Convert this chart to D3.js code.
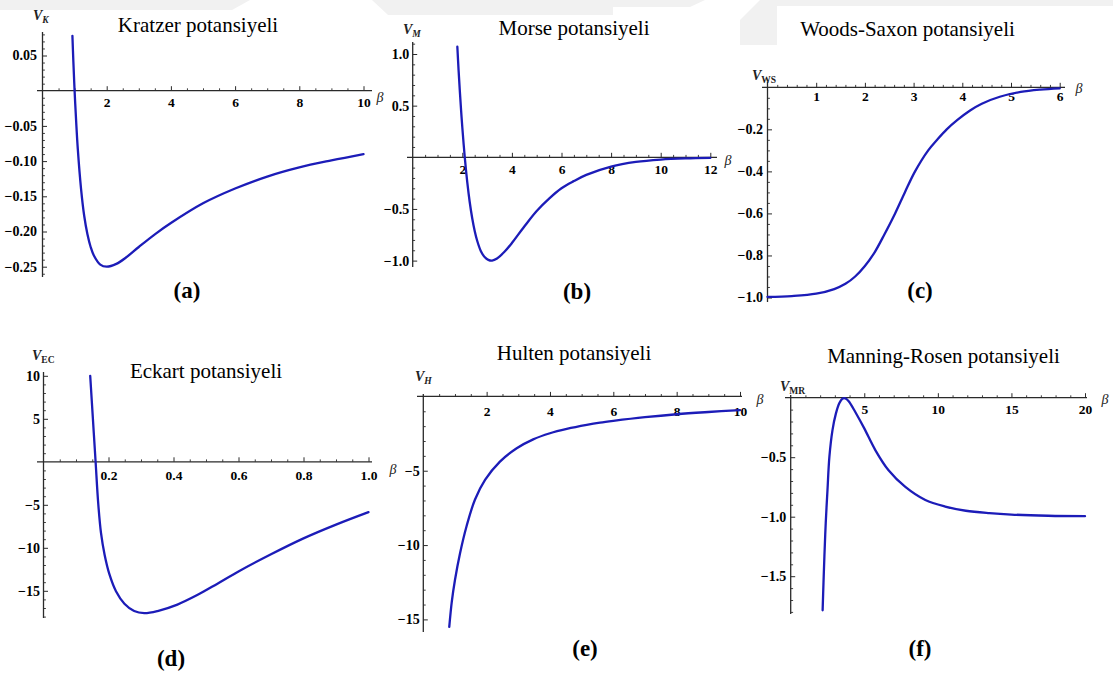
<!DOCTYPE html>
<html>
<head>
<meta charset="utf-8">
<script src="https://cdn.jsdelivr.net/npm/d3@7"></script>
<style>
  html, body { margin: 0; padding: 0; background: #fff; }
  svg { display: block; }
  svg text { font-family: "Liberation Serif", "Times New Roman", Tinos, "DejaVu Serif", serif; }
</style>
</head>
<body>
<svg id="fig" width="1113" height="674"></svg>
<script>
// ---- Kratzer ----
const kratzerBeta = [0.932, 0.96, 1.0, 1.05, 1.1, 1.2, 1.3, 1.4, 1.5, 1.6, 1.8, 2.0, 2.3, 2.6, 3.0, 3.5, 4.0, 5.0, 6.0, 7.0, 8.0, 9.0, 10.0];
const kratzerV    = [0.078, 0.043, 0, -0.045, -0.083, -0.139, -0.178, -0.204, -0.222, -0.234, -0.247, -0.25, -0.246, -0.237, -0.222, -0.204, -0.188, -0.16, -0.139, -0.122, -0.109, -0.099, -0.09];
const kratzerXTicks = [2, 4, 6, 8, 10];
const kratzerXLabels = ["2", "4", "6", "8", "10"];
const kratzerYTicks = [0.05, -0.05, -0.10, -0.15, -0.20, -0.25];
const kratzerYLabels = ["0.05", "\u22120.05", "\u22120.10", "\u22120.15", "\u22120.20", "\u22120.25"];

// ---- Morse ----
const morseBeta = [1.80, 1.85, 1.90, 1.95, 2.0, 2.1, 2.2, 2.3, 2.4, 2.5, 2.6, 2.75, 2.9, 3.05, 3.2, 3.4, 3.7, 4.0, 4.5, 5.0, 5.5, 6.0, 6.5, 7.0, 8.0, 9.0, 10.0, 11.0, 12.0];
const morseV    = [1.07, 0.844, 0.643, 0.459, 0.291, 0, -0.24, -0.435, -0.59, -0.713, -0.808, -0.909, -0.965, -0.993, -1.0, -0.98, -0.915, -0.83, -0.67, -0.52, -0.4, -0.3, -0.23, -0.17, -0.09, -0.045, -0.022, -0.011, -0.006];
const morseXTicks = [2, 4, 6, 8, 10, 12];
const morseXLabels = ["2", "4", "6", "8", "10", "12"];
const morseYTicks = [1.0, 0.5, -0.5, -1.0];
const morseYLabels = ["1.0", "0.5", "\u22120.5", "\u22121.0"];

// ---- Woods-Saxon ----
const woodsBeta = [0, 0.5, 1.0, 1.37, 1.6, 1.8, 2.0, 2.2, 2.4, 2.62, 2.82, 3.03, 3.3, 3.5, 3.68, 3.9, 4.16, 4.4, 4.77, 5.2, 5.6, 6.0];
const woodsV    = [-0.997, -0.993, -0.982, -0.96, -0.935, -0.9, -0.85, -0.785, -0.7, -0.6, -0.5, -0.4, -0.3, -0.245, -0.2, -0.155, -0.11, -0.078, -0.045, -0.022, -0.011, -0.005];
const woodsXTicks = [1, 2, 3, 4, 5, 6];
const woodsXLabels = ["1", "2", "3", "4", "5", "6"];
const woodsYTicks = [-0.2, -0.4, -0.6, -0.8, -1.0];
const woodsYLabels = ["\u22120.2", "\u22120.4", "\u22120.6", "\u22120.8", "\u22121.0"];

// ---- Eckart ----
const eckartBeta = [0.1437, 0.152, 0.1603, 0.1685, 0.177, 0.188, 0.203, 0.223, 0.249, 0.279, 0.31, 0.351, 0.412, 0.473, 0.534, 0.6, 0.7, 0.8, 0.9, 1.0];
const eckartV    = [10.0, 5.0, 0, -4.9, -8.3, -10.8, -13.1, -15.05, -16.5, -17.35, -17.6, -17.35, -16.6, -15.5, -14.2, -12.75, -10.75, -8.9, -7.3, -5.85];
const eckartXTicks = [0.2, 0.4, 0.6, 0.8, 1.0];
const eckartXLabels = ["0.2", "0.4", "0.6", "0.8", "1.0"];
const eckartYTicks = [10, 5, -5, -10, -15];
const eckartYLabels = ["10", "5", "\u22125", "\u221210", "\u221215"];

// ---- Hulten ----
const hultenBeta = [0.82, 0.9, 1.0, 1.16, 1.37, 1.63, 1.95, 2.42, 2.95, 3.47, 4.0, 4.53, 5.16, 5.58, 6.0, 7.0, 8.0, 9.0, 10.0];
const hultenV    = [-15.5, -13.8, -12.35, -10.55, -8.7, -6.95, -5.62, -4.39, -3.49, -2.89, -2.48, -2.19, -1.92, -1.77, -1.65, -1.4, -1.2, -1.05, -0.92];
const hultenXTicks = [2, 4, 6, 8, 10];
const hultenXLabels = ["2", "4", "6", "8", "10"];
const hultenYTicks = [-5, -10, -15];
const hultenYLabels = ["\u22125", "\u221210", "\u221215"];

// ---- Manning-Rosen ----
const manningBeta = [2.17, 2.23, 2.29, 2.38, 2.5, 2.63, 2.84, 3.07, 3.31, 3.5, 3.63, 3.8, 3.97, 4.38, 5.0, 5.75, 6.65, 7.79, 9.15, 10.5, 11.9, 13.5, 15.0, 17.5, 20.0];
const manningV    = [-1.786, -1.55, -1.335, -1.055, -0.776, -0.496, -0.272, -0.134, -0.045, -0.01, -0.003, -0.012, -0.034, -0.118, -0.258, -0.44, -0.61, -0.75, -0.86, -0.915, -0.95, -0.97, -0.982, -0.992, -0.996];
const manningXTicks = [5, 10, 15, 20];
const manningXLabels = ["5", "10", "15", "20"];
const manningYTicks = [-0.5, -1.0, -1.5];
const manningYLabels = ["\u22120.5", "\u22121.0", "\u22121.5"];

const svg = d3.select("#fig");
const CURVE = "#1c1cb8";
const AXIS = "#2a2a2a";

// faint page watermark behind the plots
const wm = svg.append("g").attr("fill", "#f1f1f1");
[
  [[0, 0], [250, 0], [232, 10], [0, 10]],
  [[372, 0], [613, 0], [613, 15], [388, 15]],
  [[613, 0], [705, 0], [690, 7], [613, 7]],
  [[760, 0], [1113, 0], [1113, 6], [777, 6], [777, 45], [740, 45], [740, 20]]
].forEach(pts => wm.append("polygon").attr("points", pts.map(p => p.join(",")).join(" ")));

function minorTicks(step, lo, hi, majors) {
  const out = [];
  const n0 = Math.ceil(lo / step - 1e-9), n1 = Math.floor(hi / step + 1e-9);
  for (let n = n0; n <= n1; n++) {
    const v = +(n * step).toFixed(6);
    if (Math.abs(v) < 1e-9) continue;
    if (majors.some(m => Math.abs(m - v) < 1e-9)) continue;
    out.push(v);
  }
  return out;
}

function styleLabels(size) {
  return a => {
    a.attr("font-family", null).attr("font-size", null);
    a.selectAll("text").attr("fill", "#000").style("font-weight", "bold").style("font-size", size + "px");
  };
}

function drawPanel(p) {
  const x = d3.scaleLinear().domain(p.xDomain).range(p.xRange);
  const y = d3.scaleLinear().domain(p.yDomain).range(p.yRange);
  const g = svg.append("g");
  const x0 = x(0), y0 = y(0);

  // x axis (ticks point up, labels below)
  const xMinor = minorTicks(p.xMinorStep, x.invert(p.xAxis[0]), x.invert(p.xAxis[1]), p.xTicks);
  g.append("g").attr("transform", `translate(0,${y0})`)
    .call(d3.axisBottom(x).tickValues(xMinor).tickSize(-2.4).tickFormat(""))
    .call(a => a.select(".domain").remove())
    .call(a => a.selectAll("line").attr("stroke", AXIS).attr("stroke-width", 0.9));
  g.append("g").attr("transform", `translate(0,${y0})`)
    .call(d3.axisBottom(x).tickValues(p.xTicks).tickSize(-4.5).tickPadding(p.xPad)
      .tickFormat((d, i) => p.xLabels[i]))
    .call(a => a.select(".domain").remove())
    .call(a => a.selectAll("line").attr("stroke", AXIS).attr("stroke-width", 1))
    .call(styleLabels(13.5));

  // y axis (ticks point right, labels left)
  const yLo = y.invert(p.yAxis[1]), yHi = y.invert(p.yAxis[0]);
  const yMinor = minorTicks(p.yMinorStep, Math.min(yLo, yHi), Math.max(yLo, yHi), p.yTicks);
  g.append("g").attr("transform", `translate(${x0},0)`)
    .call(d3.axisLeft(y).tickValues(yMinor).tickSize(-2.4).tickFormat(""))
    .call(a => a.select(".domain").remove())
    .call(a => a.selectAll("line").attr("stroke", AXIS).attr("stroke-width", 0.9));
  g.append("g").attr("transform", `translate(${x0},0)`)
    .call(d3.axisLeft(y).tickValues(p.yTicks).tickSize(-4.5).tickPadding(p.yPad)
      .tickFormat((d, i) => p.yLabels[i]))
    .call(a => a.select(".domain").remove())
    .call(a => a.selectAll("line").attr("stroke", AXIS).attr("stroke-width", 1))
    .call(styleLabels(14));

  // axis lines
  g.append("line").attr("x1", p.xAxis[0]).attr("x2", p.xAxis[1]).attr("y1", y0).attr("y2", y0)
    .attr("stroke", AXIS).attr("stroke-width", 1.3);
  g.append("line").attr("x1", x0).attr("x2", x0).attr("y1", p.yAxis[0]).attr("y2", p.yAxis[1])
    .attr("stroke", AXIS).attr("stroke-width", 1.3);

  // curve
  const pts = p.beta.map((b, i) => [b, p.v[i]]);
  g.append("path").datum(pts)
    .attr("fill", "none").attr("stroke", CURVE).attr("stroke-width", 2.3)
    .attr("stroke-linejoin", "round").attr("stroke-linecap", "round")
    .attr("d", d3.line().x(d => x(d[0])).y(d => y(d[1])).curve(d3.curveCatmullRom.alpha(0.5)));

  // axis name V with subscript
  const vt = g.append("text").attr("x", p.vPos[0]).attr("y", p.vPos[1])
    .style("font-size", "14px").style("font-style", "italic")
    .style("font-weight", "bold").attr("fill", "#222");
  vt.append("tspan").text("V");
  vt.append("tspan").style("font-size", "9.5px").attr("dy", 3)
    .style("font-style", p.subItalic ? "italic" : "normal").text(p.sub);

  // beta label at the end of the x axis
  g.append("text").attr("x", p.betaPos[0]).attr("y", p.betaPos[1])
    .attr("text-anchor", "middle").attr("dominant-baseline", "central")
    .style("font-size", "14px").style("font-style", "italic")
    .attr("fill", "#222").text("\u03b2");

  // title
  g.append("text").attr("x", p.titlePos[0]).attr("y", p.titlePos[1])
    .attr("text-anchor", "middle").style("font-size", "21px")
    .attr("fill", "#000").text(p.title);

  // panel letter
  g.append("text").attr("x", p.tagPos[0]).attr("y", p.tagPos[1])
    .attr("text-anchor", "middle").style("font-size", "23px")
    .style("font-weight", "bold").attr("fill", "#000").text(p.tag);
}

drawPanel({
  beta: kratzerBeta, v: kratzerV,
  xDomain: [0, 10], xRange: [42.5, 363.5], yDomain: [0, -0.25], yRange: [90.7, 266.7],
  xAxis: [37, 372], yAxis: [32, 277],
  xTicks: kratzerXTicks, xLabels: kratzerXLabels, xMinorStep: 0.5, xPad: 7,
  yTicks: kratzerYTicks, yLabels: kratzerYLabels, yMinorStep: 0.01, yPad: 5.5,
  vPos: [33, 20], sub: "K", subItalic: true, betaPos: [380, 97],
  title: "Kratzer potansiyeli", titlePos: [198, 31.5], tag: "(a)", tagPos: [187, 298]
});

drawPanel({
  beta: morseBeta, v: morseV,
  xDomain: [0, 12], xRange: [412.7, 710.3], yDomain: [0, 1], yRange: [157.3, 54.0],
  xAxis: [407, 717], yAxis: [42, 267],
  xTicks: morseXTicks, xLabels: morseXLabels, xMinorStep: 0.5, xPad: 7.5,
  yTicks: morseYTicks, yLabels: morseYLabels, yMinorStep: 0.1, yPad: 3.5,
  vPos: [403, 34], sub: "M", subItalic: true, betaPos: [728, 160],
  title: "Morse potansiyeli", titlePos: [574, 35], tag: "(b)", tagPos: [577, 298.5]
});

drawPanel({
  beta: woodsBeta, v: woodsV,
  xDomain: [0, 6], xRange: [767.5, 1059.7], yDomain: [0, -1], yRange: [87.3, 297.5],
  xAxis: [762, 1065], yAxis: [82, 302],
  xTicks: woodsXTicks, xLabels: woodsXLabels, xMinorStep: 0.2, xPad: 4,
  yTicks: woodsYTicks, yLabels: woodsYLabels, yMinorStep: 0.05, yPad: 4.5,
  vPos: [752, 80], sub: "WS", subItalic: false, betaPos: [1079, 88],
  title: "Woods-Saxon potansiyeli", titlePos: [907.5, 36], tag: "(c)", tagPos: [920, 297.5]
});

drawPanel({
  beta: eckartBeta, v: eckartV,
  xDomain: [0, 1], xRange: [43.5, 368.5], yDomain: [0, -15], yRange: [461.8, 590.8],
  xAxis: [37, 372], yAxis: [372, 618],
  xTicks: eckartXTicks, xLabels: eckartXLabels, xMinorStep: 0.05, xPad: 9,
  yTicks: eckartYTicks, yLabels: eckartYLabels, yMinorStep: 1, yPad: 3.5,
  vPos: [32, 360], sub: "EC", subItalic: false, betaPos: [393, 469],
  title: "Eckart potansiyeli", titlePos: [206, 377.5], tag: "(d)", tagPos: [171, 666]
});

drawPanel({
  beta: hultenBeta, v: hultenV,
  xDomain: [0, 10], xRange: [423.3, 740], yDomain: [0, -15], yRange: [396.4, 619.4],
  xAxis: [417, 742], yAxis: [394, 632],
  xTicks: hultenXTicks, xLabels: hultenXLabels, xMinorStep: 0.5, xPad: 10,
  yTicks: hultenYTicks, yLabels: hultenYLabels, yMinorStep: 1, yPad: 3.5,
  vPos: [415, 381], sub: "H", subItalic: true, betaPos: [760, 399],
  title: "Hulten potansiyeli", titlePos: [574, 360], tag: "(e)", tagPos: [585, 656]
});

drawPanel({
  beta: manningBeta, v: manningV,
  xDomain: [0, 20], xRange: [790.7, 1085], yDomain: [0, -1.5], yRange: [397.7, 576.2],
  xAxis: [785, 1087], yAxis: [395, 614],
  xTicks: manningXTicks, xLabels: manningXLabels, xMinorStep: 1, xPad: 7,
  yTicks: manningYTicks, yLabels: manningYLabels, yMinorStep: 0.1, yPad: 4.5,
  vPos: [780, 391], sub: "MR", subItalic: false, betaPos: [1105, 399],
  title: "Manning-Rosen potansiyeli", titlePos: [943.5, 362.5], tag: "(f)", tagPos: [920, 655.5]
});
</script>
</body>
</html>
